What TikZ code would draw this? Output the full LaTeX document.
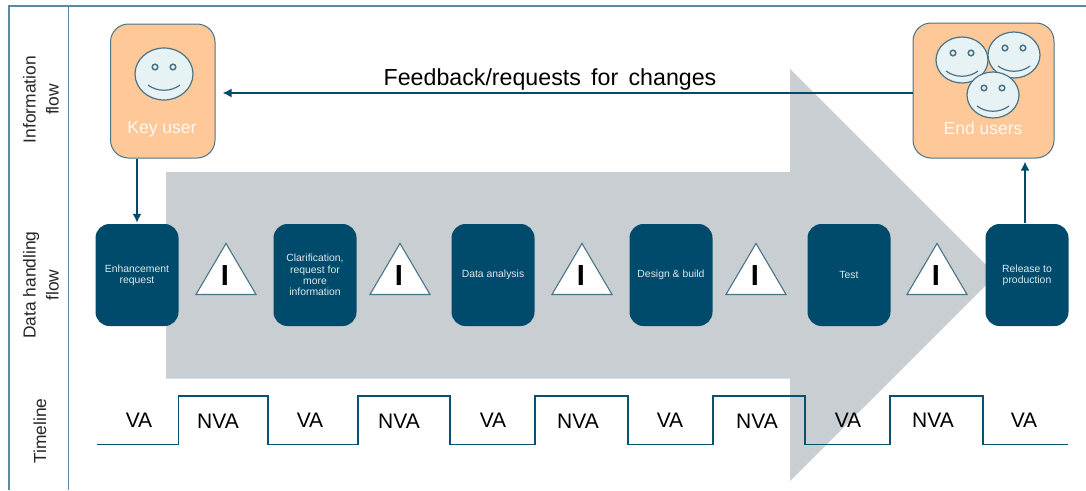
\documentclass[tikz,border=0pt]{standalone}
\usepackage{fontspec}
\setmainfont{Liberation Sans}
\usetikzlibrary{arrows.meta,shapes.geometric,positioning,calc}
\definecolor{navy}{HTML}{004B6B}
\definecolor{frameline}{HTML}{5C88A0}
\definecolor{bigarrow}{HTML}{C9CED2}
\definecolor{peach}{HTML}{FFC899}
\definecolor{facefill}{HTML}{E6F2F4}
\definecolor{faceline}{HTML}{4A7486}
\tikzset{
    flow/.style={-{Latex[length=9pt, width=9pt]}, line width=2pt, navy},
    userbox/.style={draw=faceline, fill=peach, rounded corners=18pt, line width=1pt, inner sep=0pt},
    stagebox/.style={fill=navy, text=white!88!navy, rounded corners=14pt, minimum width=83pt, minimum height=102pt,
        inner sep=1pt, align=center, font=\fontsize{10.4}{11.2}\selectfont},
    waitmark/.style={draw=faceline, fill=white, isosceles triangle, isosceles triangle apex angle=61,
        isosceles triangle stretches, shape border rotate=90, minimum width=60pt, minimum height=51pt,
        inner sep=0pt, line width=1.1pt, anchor=south},
    barmark/.style={font=\fontsize{29}{29}\bfseries\selectfont, inner sep=0pt},
    usertext/.style={text=white!85!peach, font=\fontsize{17.5}{20}\selectfont, inner sep=0pt},
    lanetext/.style={rotate=90, align=center, text=black!85, font=\fontsize{17.4}{23}\selectfont, inner sep=0pt},
    steptext/.style={font=\fontsize{21}{24}\selectfont, inner sep=0pt},
    smiley/.pic={
        \draw[fill=facefill, draw=faceline, line width=1.2pt] (0,0) ellipse (\pgfkeysvalueof{/tikz/facex} and \pgfkeysvalueof{/tikz/facey});
        \draw[fill=facefill, draw=faceline, line width=1.5pt] (-9,-7) circle (2.8) (9,-7) circle (2.8);
        \draw[faceline, line width=1.2pt] (-16,11) .. controls (-7,18) and (7,18) .. (16,11);
    },
    facex/.initial=26, facey/.initial=23
}
\begin{document}
\begin{tikzpicture}[x=1pt, y=-1pt, node distance=95pt]
    \useasboundingbox (0,0) rectangle (1086,490);
    % lanes
    \draw[frameline, line width=1.4pt] (1086,6) -- (9,6) -- (9,490);
    \draw[frameline, line width=1.4pt] (68.5,6) -- (68.5,490);
    \node[lanetext] (info) at (41,99.5) {Information\\flow};
    \node[lanetext] (data) at (41,285) {Data handling\\flow};
    \node[lanetext] (time) at (40,431) {Timeline};
    % big arrow behind everything
    \fill[bigarrow] (166,172) -- (790,172) -- (790,69) -- (996,275) -- (790,481) -- (790,378.5) -- (166,378.5) -- cycle;
    % users
    \node[userbox, minimum width=104.5pt, minimum height=134pt] (key) at (162.75,91) {};
    \node[userbox, minimum width=141pt, minimum height=135pt] (end) at (983.5,90.5) {};
    \pic[facex=29, facey=26] at (164,74) {smiley};
    \node[usertext] (keytext) at (162,129) {Key user};
    \pic at (962,60) {smiley};
    \pic at (1014,55) {smiley};
    \pic at (993,95) {smiley};
    \node[usertext] (endtext) at (983,128) {End users};
    % stages
    \node[stagebox] (enh) at (137,275) {Enhancement\\request};
    \node[stagebox, right=of enh.center, anchor=center, xshift=83pt] (cla) {Clarification,\\request for\\more\\information};
    \node[stagebox, right=of cla.center, anchor=center, xshift=83pt] (ana) {Data analysis};
    \node[stagebox, right=of ana.center, anchor=center, xshift=83pt] (des) {Design \& build};
    \node[stagebox, right=of des.center, anchor=center, xshift=83pt] (tes) {Test};
    \node[stagebox, right=of tes.center, anchor=center, xshift=83pt] (rel) {Release to\\production};
    % waits
    \foreach \i/\x in {1/226,2/400,3/582,4/756,5/937}{
        \node[waitmark] (wait\i) at (\x,295) {};
        \node[barmark] (bar\i) at (\x-1,276) {I};
    }
    % flows
    \draw[flow, shorten >=7pt] (end.west |- 0,93) -- (key.east |- 0,93);
    \draw[flow, shorten >=1pt] (key.south -| enh.north) -- (enh.north);
    \draw[flow, shorten >=3pt] ($(rel.north)+(-2,-1)$) -- ($(rel.north |- end.south)+(-2,0)$);
    \node[font=\fontsize{23.2}{26}\selectfont, inner sep=0pt] (feedback) at (550,79.5) {Feedback/requests\, for\, changes};
    % timeline
    \draw[navy!90!frameline, line width=1.8pt] (97,444.5) -| (178.5,396) -| (268,444.5) -| (358,396) -| (450,444.5)
        -| (535,396) -| (628,444.5) -| (713,396) -| (805,444.5) -| (890,396) -| (983,444.5) -- (1068,444.5);
    \foreach \x/\t/\y [count=\i] in {139/VA/420,218/NVA/421,310/VA/420,399/NVA/421,493/VA/420,578/NVA/421,670/VA/420,757/NVA/421,848/VA/420,933/NVA/420,1024/VA/420}{
        \node[steptext] (tl\i) at (\x,\y) {\t};
    }
\end{tikzpicture}
\end{document}
